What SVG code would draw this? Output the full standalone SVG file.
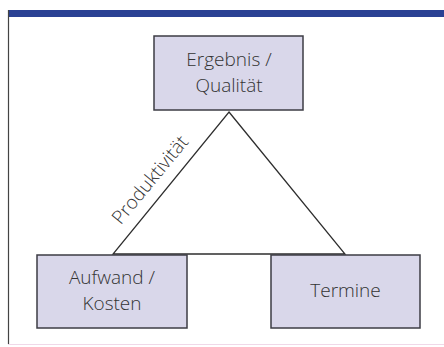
<svg xmlns="http://www.w3.org/2000/svg" width="444" height="347" viewBox="0 0 444 347">
<style>
.box{fill:#d9d7ea;stroke:#3c3c44;stroke-width:1.5}
.lbl{font-family:"Open Sans","Noto Sans",sans-serif;font-size:19px;font-weight:300;fill:#333;text-anchor:middle}
.edge{fill:none;stroke:#2e2e2e;stroke-width:1.3}
</style>
<rect x="0" y="0" width="444" height="347" fill="#ffffff"/>
<g id="frame">
<rect x="8" y="10" width="436" height="7" fill="#2a4194"/>
<line x1="8.5" y1="10" x2="8.5" y2="344" stroke="#444" stroke-width="1.2"/>
<line x1="8" y1="344.5" x2="444" y2="344.5" stroke="#f0d8e8" stroke-width="1"/>
</g>
<g id="connectors">
<polygon class="edge" points="229,112 345,254 113,254"/>
<text class="lbl" transform="translate(155,184) rotate(-50.5)">Produktivität</text>
</g>
<g id="node-ergebnis">
<rect class="box" x="154" y="36" width="149" height="74"/>
<text class="lbl" x="229" y="66">Ergebnis /</text>
<text class="lbl" x="229" y="92">Qualität</text>
</g>
<g id="node-aufwand">
<rect class="box" x="37" y="255" width="150" height="73"/>
<text class="lbl" x="112" y="284">Aufwand /</text>
<text class="lbl" x="112" y="310">Kosten</text>
</g>
<g id="node-termine">
<rect class="box" x="271" y="255" width="149" height="73"/>
<text class="lbl" x="345.5" y="297">Termine</text>
</g>
</svg>
